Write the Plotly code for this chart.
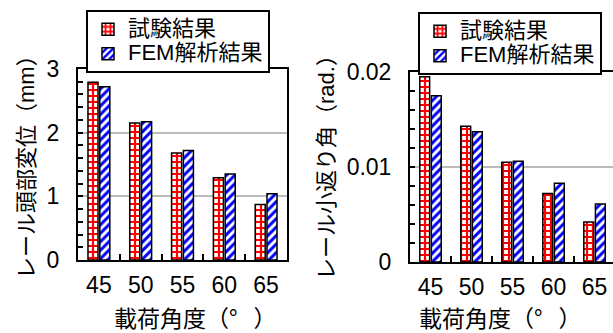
import plotly.graph_objects as go

# Loading angle categories (degrees)
angles = ["45", "50", "55", "60", "65"]

# Rail head displacement (mm)
disp_test = [2.79, 2.15, 1.68, 1.29, 0.87]
disp_fem = [2.72, 2.17, 1.72, 1.35, 1.04]

# Rail rotation angle (rad.)
rot_test = [0.0195, 0.0143, 0.0105, 0.0072, 0.0042]
rot_fem = [0.0175, 0.0137, 0.0106, 0.0083, 0.0061]

name_test = "試験結果"
name_fem = "FEM解析結果"

FONT = "Liberation Sans, Arial, Noto Sans CJK JP"
CJK_FONT = "Noto Sans CJK JP"
LEGEND_TEXT_PX = 22


def legend_label(s):
    return f"<span style='font-size:{LEGEND_TEXT_PX}px'>{s}</span>"


red_pattern = dict(shape="+", fgcolor="#ff0000", bgcolor="white", size=6, solidity=0.6, fillmode="replace")
blue_pattern = dict(shape="/", fgcolor="#0000ff", bgcolor="white", size=6, solidity=0.5, fillmode="replace")
outline = dict(color="black", width=1.5)

fig = go.Figure()

fig.add_trace(go.Bar(x=angles, y=disp_test, name=legend_label(name_test), xaxis="x", yaxis="y",
                     marker=dict(color="white", pattern=red_pattern, line=outline), legend="legend"))
fig.add_trace(go.Bar(x=angles, y=disp_fem, name=legend_label(name_fem), xaxis="x", yaxis="y",
                     marker=dict(color="white", pattern=blue_pattern, line=outline), legend="legend"))
fig.add_trace(go.Bar(x=angles, y=rot_test, name=legend_label(name_test), xaxis="x2", yaxis="y2",
                     marker=dict(color="white", pattern=red_pattern, line=outline), legend="legend2"))
fig.add_trace(go.Bar(x=angles, y=rot_fem, name=legend_label(name_fem), xaxis="x2", yaxis="y2",
                     marker=dict(color="white", pattern=blue_pattern, line=outline), legend="legend2"))

W, H = 613, 333


def px_x(v):
    return v / W


def px_y(v):
    return 1 - v / H


xcommon = dict(type="category", showline=True, mirror=True, linecolor="black", linewidth=2,
               ticks="inside", tickson="boundaries", ticklen=6, tickwidth=1.5, tickcolor="black",
               showgrid=False, ticklabelstandoff=3, automargin=False,
               tickfont=dict(family=FONT, size=23, color="black"))
ycommon = dict(showline=True, mirror=True, linecolor="black", linewidth=2,
               ticks="inside", ticklen=5, tickwidth=1.5, tickcolor="black",
               showgrid=True, gridcolor="#bbbbbb", gridwidth=1.5, zeroline=False,
               ticklabelstandoff=12, automargin=False,
               tickfont=dict(family=FONT, size=23, color="black"))

legend_common = dict(xanchor="left", yanchor="top",
                     bordercolor="black", borderwidth=2, bgcolor="white",
                     font=dict(family=FONT, size=16.5, color="black"),
                     itemwidth=30, tracegroupgap=0, traceorder="normal")

fig.update_layout(
    width=W, height=H,
    margin=dict(l=0, r=0, t=0, b=0),
    paper_bgcolor="white", plot_bgcolor="white",
    barmode="group", bargap=0.435, bargroupgap=0.15,
    font=dict(family=FONT, color="black"),
    xaxis=dict(domain=[px_x(78), px_x(287)], anchor="y", range=[-0.5, 4.5], **xcommon),
    yaxis=dict(domain=[px_y(260), px_y(69)], anchor="x", range=[0, 3], dtick=1,
               minor=dict(dtick=0.2, ticks="inside", ticklen=5, tickwidth=1.5, tickcolor="black", showgrid=False),
               **ycommon),
    xaxis2=dict(domain=[px_x(410), 1.0], anchor="y2", range=[-0.5, 4.45], **xcommon),
    yaxis2=dict(domain=[px_y(262), px_y(72)], anchor="x2", range=[0, 0.02], dtick=0.01,
                minor=dict(dtick=0.002, ticks="inside", ticklen=5, tickwidth=1.5, tickcolor="black", showgrid=False),
                **ycommon),
    legend=dict(x=px_x(86), y=px_y(10), **legend_common),
    legend2=dict(x=px_x(418), y=px_y(12), **legend_common),
    showlegend=True,
)

title_font = dict(family=FONT, size=22, color="black")
xtitle_font = dict(family=CJK_FONT, size=23, color="black")
# wide degree cell inside the full-width brackets
xtitle = "載荷角度（<span style='letter-spacing:16px'>°</span>）"
fig.add_annotation(text="レール頭部変位（mm）", x=px_x(26), y=px_y(162), xref="paper", yref="paper",
                   textangle=-90, showarrow=False, font=title_font, xanchor="center", yanchor="middle")
fig.add_annotation(text="レール小返り角（rad.）", x=px_x(326), y=px_y(162), xref="paper", yref="paper",
                   textangle=-90, showarrow=False, font=title_font, xanchor="center", yanchor="middle")
fig.add_annotation(text=xtitle, x=px_x(195), y=px_y(317), xref="paper", yref="paper",
                   showarrow=False, font=xtitle_font, xanchor="center", yanchor="middle")
fig.add_annotation(text=xtitle, x=px_x(500), y=px_y(317), xref="paper", yref="paper",
                   showarrow=False, font=xtitle_font, xanchor="center", yanchor="middle")

fig.write_html("out.html")
